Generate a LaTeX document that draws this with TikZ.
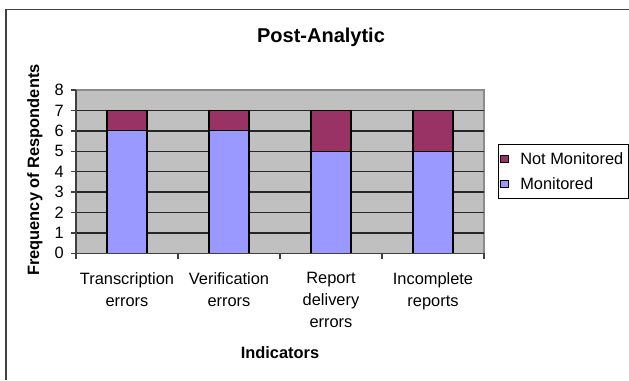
\documentclass[tikz,border=0pt]{standalone}
\usepackage{fontspec}
\setmainfont{Liberation Sans}
\definecolor{plotbg}{HTML}{C0C0C0}
\definecolor{monit}{HTML}{9999FF}
\definecolor{notmonit}{HTML}{993366}
\definecolor{frameline}{HTML}{404040}
\begin{document}
\begin{tikzpicture}[x=0.75pt,y=-0.75pt,
  lbl/.style={font=\fontsize{12.3}{16.5}\selectfont, inner sep=0pt},
  boldlbl/.style={font=\fontsize{12.3}{16.5}\selectfont\bfseries, inner sep=0pt},
  catlbl/.style={lbl, align=center, anchor=north},
  ticklbl/.style={lbl, anchor=east},
  barbox/.style={draw=black, line width=0.8pt},
  gridline/.style={draw=black!85, line width=1.1pt},
  axisline/.style={draw=black!75, line width=1.1pt},
  keybox/.style={draw=black, line width=0.6pt, minimum size=5.5pt, inner sep=0pt}]
\useasboundingbox (0,0) rectangle (629,380);
% outer chart frame
\draw[frameline, line width=1.4pt] (6,380) -- (6,9.5) -- (629,9.5);
% plot area
\fill[plotbg] (76,90) rectangle (484,253.3);
\draw[black!45, line width=1pt] (76,90) -- (484,90) -- (484,253.3);
% horizontal grid lines
\foreach \v in {1,...,7} {
  \draw[gridline] (76,{253.3-20.41*\v}) -- (484,{253.3-20.41*\v});
}
% stacked bars: monitored / not monitored
\foreach \c/\m in {127/6, 229/6, 331/5, 433/5} {
  \fill[monit] (\c-20,253.3) rectangle (\c+20,{253.3-20.41*\m});
  \fill[notmonit] (\c-20,{253.3-20.41*\m}) rectangle (\c+20,{253.3-20.41*7});
  \draw[barbox] (\c-20,253.3) rectangle (\c+20,{253.3-20.41*7});
  \draw[barbox] (\c-20,{253.3-20.41*\m}) -- (\c+20,{253.3-20.41*\m});
}
% axes
\draw[axisline] (76,90) -- (76,253.3) -- (484,253.3);
\foreach \v in {0,...,8} {
  \draw[axisline] (71,{253.3-20.41*\v}) -- (76,{253.3-20.41*\v});
  \node[ticklbl] (t\v) at (64,{253.3-20.41*\v}) {\v};
}
\foreach \x in {76,178,280,382,484} {
  \draw[axisline] (\x,253.3) -- (\x,259);
}
% category labels
\node[catlbl] (c1) at (127,272) {Transcription\\errors};
\node[catlbl] (c2) at (229,272) {Verification\\errors};
\node[catlbl] (c3) at (331,272) {Report\\delivery\\errors};
\node[catlbl] (c4) at (433,272) {Incomplete\\reports};
% titles
\node[font=\fontsize{15}{18}\selectfont\bfseries, inner sep=0pt, anchor=base] (title) at (321,42) {Post-Analytic};
\node[boldlbl, anchor=base] (xtitle) at (280,358) {Indicators};
\node[boldlbl, rotate=90] (ytitle) at (35,170) {Frequency of Respondents};
% legend
\draw[black, line width=0.6pt] (498,144) rectangle (628,198);
\node[keybox, fill=notmonit] (k1) at (504.5,159) {};
\node[keybox, fill=monit] (k2) at (504.5,184) {};
\node[lbl, anchor=west] (l1) at (520,159) {Not Monitored};
\node[lbl, anchor=west] (l2) at (520,184) {Monitored};
\end{tikzpicture}
\end{document}
